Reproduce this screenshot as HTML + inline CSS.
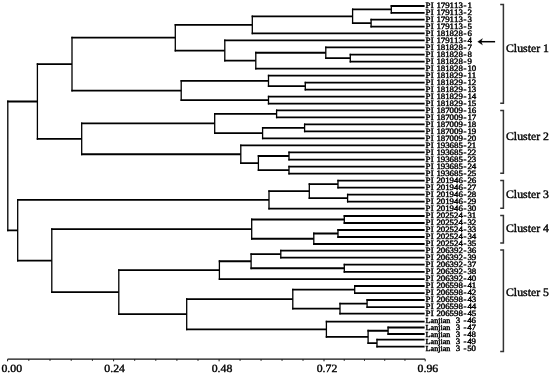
<!DOCTYPE html>
<html><head><meta charset="utf-8"><style>
html,body{margin:0;padding:0;background:#fff;}
body{width:550px;height:375px;overflow:hidden;}
svg{display:block;will-change:transform;}
text{font-family:"Liberation Serif",serif;text-rendering:geometricPrecision;}
</style></head><body>
<svg width="550" height="375" viewBox="0 0 550 375">
<rect width="550" height="375" fill="#fff"/>
<path d="M390.65 6.00H424.60M390.65 12.90H424.60M370.45 19.60H424.60M370.45 26.70H424.60M351.95 9.45H391.30M351.95 23.15H371.10M251.65 16.30H352.60M251.65 33.30H424.60M349.65 54.60H424.60M349.65 61.70H424.60M325.15 47.30H424.60M325.15 58.15H350.30M255.15 52.73H325.80M255.15 68.60H424.60M224.15 40.40H424.60M224.15 60.66H255.80M174.65 24.80H252.30M174.65 50.53H224.80M304.65 82.60H424.60M304.65 89.70H424.60M267.85 75.70H424.60M267.85 86.15H305.30M267.85 96.60H424.60M267.85 103.70H424.60M180.55 80.93H268.50M180.55 100.15H268.50M71.35 37.67H175.30M71.35 90.54H181.20M275.95 110.40H424.60M275.95 117.30H424.60M303.95 124.40H424.60M303.95 131.30H424.60M261.95 127.85H304.60M261.95 138.30H424.60M214.05 113.85H276.60M214.05 133.08H262.60M288.35 152.30H424.60M288.35 159.70H424.60M288.35 166.60H424.60M288.35 173.70H424.60M257.75 156.00H289.00M257.75 170.15H289.00M240.15 145.40H424.60M240.15 163.07H258.40M81.05 123.46H214.70M81.05 154.24H240.80M36.75 64.10H72.00M36.75 138.85H81.70M337.35 180.60H424.60M337.35 187.60H424.60M346.95 194.60H424.60M346.95 201.60H424.60M308.65 184.10H338.00M308.65 198.10H347.60M268.35 191.10H309.30M268.35 208.70H424.60M343.65 216.00H424.60M343.65 223.00H424.60M337.35 230.00H424.60M337.35 237.00H424.60M313.15 233.50H338.00M313.15 244.00H424.60M251.05 219.50H344.30M251.05 238.75H313.80M280.15 250.70H424.60M280.15 257.70H424.60M343.65 264.70H424.60M343.65 271.80H424.60M250.45 254.20H280.80M250.45 268.25H344.30M218.75 261.23H251.10M218.75 279.10H424.60M354.05 286.00H424.60M354.05 293.10H424.60M366.45 300.00H424.60M366.45 307.10H424.60M339.35 303.55H367.10M339.35 313.70H424.60M292.15 289.55H354.70M292.15 308.62H340.00M387.45 327.50H424.60M387.45 334.00H424.60M376.35 339.70H424.60M376.35 346.60H424.60M367.45 330.75H388.10M367.45 343.15H377.00M325.75 321.70H424.60M325.75 336.95H368.10M186.05 299.09H292.80M186.05 329.32H326.40M118.15 270.16H219.40M118.15 314.21H186.70M51.15 229.12H251.70M51.15 292.18H118.80M17.05 199.90H269.00M17.05 260.65H51.80M7.15 101.48H37.40M7.15 230.28H17.70" fill="none" stroke="#000" stroke-width="1.8"/>
<path d="M391.30 5.10V13.80M371.10 18.70V27.60M352.60 8.55V24.05M252.30 15.40V34.20M350.30 53.70V62.60M325.80 46.40V59.05M255.80 51.83V69.50M224.80 39.50V61.56M175.30 23.90V51.43M305.30 81.70V90.60M268.50 74.80V87.05M268.50 95.70V104.60M181.20 80.03V101.05M72.00 36.77V91.44M276.60 109.50V118.20M304.60 123.50V132.20M262.60 126.95V139.20M214.70 112.95V133.98M289.00 151.40V160.60M289.00 165.70V174.60M258.40 155.10V171.05M240.80 144.50V163.97M81.70 122.56V155.14M37.40 63.20V139.75M338.00 179.70V188.50M347.60 193.70V202.50M309.30 183.20V199.00M269.00 190.20V209.60M344.30 215.10V223.90M338.00 229.10V237.90M313.80 232.60V244.90M251.70 218.60V239.65M280.80 249.80V258.60M344.30 263.80V272.70M251.10 253.30V269.15M219.40 260.33V280.00M354.70 285.10V294.00M367.10 299.10V308.00M340.00 302.65V314.60M292.80 288.65V309.52M388.10 326.60V334.90M377.00 338.80V347.50M368.10 329.85V344.05M326.40 320.80V337.85M186.70 298.19V330.22M118.80 269.26V315.11M51.80 228.22V293.08M17.70 199.00V261.55M7.80 100.58V231.18" fill="none" stroke="#000" stroke-width="1.3"/>
<path d="M7.6 359.2H425.2" stroke="#111" stroke-width="1.3" fill="none"/>
<path d="M7.60 359.20v2.1M28.80 359.20v1.6M50.00 359.20v1.6M71.20 359.20v1.6M92.40 359.20v1.6M113.60 359.20v2.1M134.70 359.20v1.6M155.80 359.20v1.6M176.90 359.20v1.6M198.00 359.20v1.6M219.10 359.20v2.1M240.08 359.20v1.6M261.06 359.20v1.6M282.04 359.20v1.6M303.02 359.20v1.6M324.00 359.20v2.1M344.24 359.20v1.6M364.48 359.20v1.6M384.72 359.20v1.6M404.96 359.20v1.6M425.20 359.20v2.1" stroke="#111" stroke-width="1" fill="none"/>
<g fill="#000" stroke="#000" stroke-width="0.45"><text transform="translate(0,7.90) scale(1,0.9298)"><tspan font-size="8.9" x="425.60 430.72 433.78 436.43 440.82 445.21 449.60 453.99 458.38 463.56 467.40">PI 179113-1</tspan></text><text transform="translate(0,14.91) scale(1,0.9298)"><tspan font-size="8.9" x="425.60 430.72 433.78 436.43 440.82 445.21 449.60 453.99 458.38 463.56 467.40">PI 179113-2</tspan></text><text transform="translate(0,21.92) scale(1,0.9298)"><tspan font-size="8.9" x="425.60 430.72 433.78 436.43 440.82 445.21 449.60 453.99 458.38 463.56 467.40">PI 179113-3</tspan></text><text transform="translate(0,28.93) scale(1,0.9298)"><tspan font-size="8.9" x="425.60 430.72 433.78 436.43 440.82 445.21 449.60 453.99 458.38 463.56 467.40">PI 179113-5</tspan></text><text transform="translate(0,35.95) scale(1,0.9298)"><tspan font-size="8.9" x="425.60 430.72 433.78 436.43 440.82 445.21 449.60 453.99 458.38 463.56 467.40">PI 181828-6</tspan></text><text transform="translate(0,42.96) scale(1,0.9298)"><tspan font-size="8.9" x="425.60 430.72 433.78 436.43 440.82 445.21 449.60 453.99 458.38 463.56 467.40">PI 179113-4</tspan></text><text transform="translate(0,49.97) scale(1,0.9298)"><tspan font-size="8.9" x="425.60 430.72 433.78 436.43 440.82 445.21 449.60 453.99 458.38 463.56 467.40">PI 181828-7</tspan></text><text transform="translate(0,56.98) scale(1,0.9298)"><tspan font-size="8.9" x="425.60 430.72 433.78 436.43 440.82 445.21 449.60 453.99 458.38 463.56 467.40">PI 181828-8</tspan></text><text transform="translate(0,63.99) scale(1,0.9298)"><tspan font-size="8.9" x="425.60 430.72 433.78 436.43 440.82 445.21 449.60 453.99 458.38 463.56 467.40">PI 181828-9</tspan></text><text transform="translate(0,71.00) scale(1,0.9298)"><tspan font-size="8.9" x="425.60 430.72 433.78 436.43 440.82 445.21 449.60 453.99 458.38 463.56 467.40 471.70">PI 181828-10</tspan></text><text transform="translate(0,78.02) scale(1,0.9298)"><tspan font-size="8.9" x="425.60 430.72 433.78 436.43 440.82 445.21 449.60 453.99 458.38 463.56 467.40 471.70">PI 181829-11</tspan></text><text transform="translate(0,85.03) scale(1,0.9298)"><tspan font-size="8.9" x="425.60 430.72 433.78 436.43 440.82 445.21 449.60 453.99 458.38 463.56 467.40 471.70">PI 181829-12</tspan></text><text transform="translate(0,92.04) scale(1,0.9298)"><tspan font-size="8.9" x="425.60 430.72 433.78 436.43 440.82 445.21 449.60 453.99 458.38 463.56 467.40 471.70">PI 181829-13</tspan></text><text transform="translate(0,99.05) scale(1,0.9298)"><tspan font-size="8.9" x="425.60 430.72 433.78 436.43 440.82 445.21 449.60 453.99 458.38 463.56 467.40 471.70">PI 181829-14</tspan></text><text transform="translate(0,106.06) scale(1,0.9298)"><tspan font-size="8.9" x="425.60 430.72 433.78 436.43 440.82 445.21 449.60 453.99 458.38 463.56 467.40 471.70">PI 181829-15</tspan></text><text transform="translate(0,113.07) scale(1,0.9298)"><tspan font-size="8.9" x="425.60 430.72 433.78 436.43 440.82 445.21 449.60 453.99 458.38 463.56 467.40 471.70">PI 187009-16</tspan></text><text transform="translate(0,120.08) scale(1,0.9298)"><tspan font-size="8.9" x="425.60 430.72 433.78 436.43 440.82 445.21 449.60 453.99 458.38 463.56 467.40 471.70">PI 187009-17</tspan></text><text transform="translate(0,127.10) scale(1,0.9298)"><tspan font-size="8.9" x="425.60 430.72 433.78 436.43 440.82 445.21 449.60 453.99 458.38 463.56 467.40 471.70">PI 187009-18</tspan></text><text transform="translate(0,134.11) scale(1,0.9298)"><tspan font-size="8.9" x="425.60 430.72 433.78 436.43 440.82 445.21 449.60 453.99 458.38 463.56 467.40 471.70">PI 187009-19</tspan></text><text transform="translate(0,141.12) scale(1,0.9298)"><tspan font-size="8.9" x="425.60 430.72 433.78 436.43 440.82 445.21 449.60 453.99 458.38 463.56 467.40 471.70">PI 187009-20</tspan></text><text transform="translate(0,148.13) scale(1,0.9298)"><tspan font-size="8.9" x="425.60 430.72 433.78 436.43 440.82 445.21 449.60 453.99 458.38 463.56 467.40 471.70">PI 193685-21</tspan></text><text transform="translate(0,155.14) scale(1,0.9298)"><tspan font-size="8.9" x="425.60 430.72 433.78 436.43 440.82 445.21 449.60 453.99 458.38 463.56 467.40 471.70">PI 193685-22</tspan></text><text transform="translate(0,162.15) scale(1,0.9298)"><tspan font-size="8.9" x="425.60 430.72 433.78 436.43 440.82 445.21 449.60 453.99 458.38 463.56 467.40 471.70">PI 193685-23</tspan></text><text transform="translate(0,169.16) scale(1,0.9298)"><tspan font-size="8.9" x="425.60 430.72 433.78 436.43 440.82 445.21 449.60 453.99 458.38 463.56 467.40 471.70">PI 193685-24</tspan></text><text transform="translate(0,176.18) scale(1,0.9298)"><tspan font-size="8.9" x="425.60 430.72 433.78 436.43 440.82 445.21 449.60 453.99 458.38 463.56 467.40 471.70">PI 193685-25</tspan></text><text transform="translate(0,183.19) scale(1,0.9298)"><tspan font-size="8.9" x="425.60 430.72 433.78 436.43 440.82 445.21 449.60 453.99 458.38 463.56 467.40 471.70">PI 201946-26</tspan></text><text transform="translate(0,190.20) scale(1,0.9298)"><tspan font-size="8.9" x="425.60 430.72 433.78 436.43 440.82 445.21 449.60 453.99 458.38 463.56 467.40 471.70">PI 201946-27</tspan></text><text transform="translate(0,197.21) scale(1,0.9298)"><tspan font-size="8.9" x="425.60 430.72 433.78 436.43 440.82 445.21 449.60 453.99 458.38 463.56 467.40 471.70">PI 201946-28</tspan></text><text transform="translate(0,204.22) scale(1,0.9298)"><tspan font-size="8.9" x="425.60 430.72 433.78 436.43 440.82 445.21 449.60 453.99 458.38 463.56 467.40 471.70">PI 201946-29</tspan></text><text transform="translate(0,211.23) scale(1,0.9298)"><tspan font-size="8.9" x="425.60 430.72 433.78 436.43 440.82 445.21 449.60 453.99 458.38 463.56 467.40 471.70">PI 201946-30</tspan></text><text transform="translate(0,218.25) scale(1,0.9298)"><tspan font-size="8.9" x="425.60 430.72 433.78 436.43 440.82 445.21 449.60 453.99 458.38 463.56 467.40 471.70">PI 202524-31</tspan></text><text transform="translate(0,225.26) scale(1,0.9298)"><tspan font-size="8.9" x="425.60 430.72 433.78 436.43 440.82 445.21 449.60 453.99 458.38 463.56 467.40 471.70">PI 202524-32</tspan></text><text transform="translate(0,232.27) scale(1,0.9298)"><tspan font-size="8.9" x="425.60 430.72 433.78 436.43 440.82 445.21 449.60 453.99 458.38 463.56 467.40 471.70">PI 202524-33</tspan></text><text transform="translate(0,239.28) scale(1,0.9298)"><tspan font-size="8.9" x="425.60 430.72 433.78 436.43 440.82 445.21 449.60 453.99 458.38 463.56 467.40 471.70">PI 202524-34</tspan></text><text transform="translate(0,246.29) scale(1,0.9298)"><tspan font-size="8.9" x="425.60 430.72 433.78 436.43 440.82 445.21 449.60 453.99 458.38 463.56 467.40 471.70">PI 202524-35</tspan></text><text transform="translate(0,253.30) scale(1,0.9298)"><tspan font-size="8.9" x="425.60 430.72 433.78 436.43 440.82 445.21 449.60 453.99 458.38 463.56 467.40 471.70">PI 206392-36</tspan></text><text transform="translate(0,260.31) scale(1,0.9298)"><tspan font-size="8.9" x="425.60 430.72 433.78 436.43 440.82 445.21 449.60 453.99 458.38 463.56 467.40 471.70">PI 206392-39</tspan></text><text transform="translate(0,267.33) scale(1,0.9298)"><tspan font-size="8.9" x="425.60 430.72 433.78 436.43 440.82 445.21 449.60 453.99 458.38 463.56 467.40 471.70">PI 206392-37</tspan></text><text transform="translate(0,274.34) scale(1,0.9298)"><tspan font-size="8.9" x="425.60 430.72 433.78 436.43 440.82 445.21 449.60 453.99 458.38 463.56 467.40 471.70">PI 206392-38</tspan></text><text transform="translate(0,281.35) scale(1,0.9298)"><tspan font-size="8.9" x="425.60 430.72 433.78 436.43 440.82 445.21 449.60 453.99 458.38 463.56 467.40 471.70">PI 206392-40</tspan></text><text transform="translate(0,288.36) scale(1,0.9298)"><tspan font-size="8.9" x="425.60 430.72 433.78 436.43 440.82 445.21 449.60 453.99 458.38 463.56 467.40 471.70">PI 206598-41</tspan></text><text transform="translate(0,295.37) scale(1,0.9298)"><tspan font-size="8.9" x="425.60 430.72 433.78 436.43 440.82 445.21 449.60 453.99 458.38 463.56 467.40 471.70">PI 206598-42</tspan></text><text transform="translate(0,302.38) scale(1,0.9298)"><tspan font-size="8.9" x="425.60 430.72 433.78 436.43 440.82 445.21 449.60 453.99 458.38 463.56 467.40 471.70">PI 206598-43</tspan></text><text transform="translate(0,309.39) scale(1,0.9298)"><tspan font-size="8.9" x="425.60 430.72 433.78 436.43 440.82 445.21 449.60 453.99 458.38 463.56 467.40 471.70">PI 206598-44</tspan></text><text transform="translate(0,316.41) scale(1,0.9298)"><tspan font-size="8.9" x="425.60 430.72 433.78 436.43 440.82 445.21 449.60 453.99 458.38 463.56 467.40 471.70">PI 206598-45</tspan></text><text transform="translate(0,323.42) scale(1,0.9298)"><tspan font-size="8.1" x="425.60 430.55 434.14 438.19 440.44 442.69 446.29">Lanjian</tspan><tspan font-size="8.9" x="455.80 460.25 463.56 467.30 471.60">3 -46</tspan></text><text transform="translate(0,330.43) scale(1,0.9298)"><tspan font-size="8.1" x="425.60 430.55 434.14 438.19 440.44 442.69 446.29">Lanjian</tspan><tspan font-size="8.9" x="455.80 460.25 463.56 467.30 471.60">3 -47</tspan></text><text transform="translate(0,337.44) scale(1,0.9298)"><tspan font-size="8.1" x="425.60 430.55 434.14 438.19 440.44 442.69 446.29">Lanjian</tspan><tspan font-size="8.9" x="455.80 460.25 463.56 467.30 471.60">3 -48</tspan></text><text transform="translate(0,344.45) scale(1,0.9298)"><tspan font-size="8.1" x="425.60 430.55 434.14 438.19 440.44 442.69 446.29">Lanjian</tspan><tspan font-size="8.9" x="455.80 460.25 463.56 467.30 471.60">3 -49</tspan></text><text transform="translate(0,351.46) scale(1,0.9298)"><tspan font-size="8.1" x="425.60 430.55 434.14 438.19 440.44 442.69 446.29">Lanjian</tspan><tspan font-size="8.9" x="455.80 460.25 463.56 467.30 471.60">3 -50</tspan></text></g>
<path d="M500.2 4.60H503.4V103.20H500.2M500.2 110.40H503.4V173.20H500.2M500.2 180.40H503.4V208.20H500.2M500.2 215.60H503.4V243.00H500.2M500.2 250.00H503.4V351.40H500.2" fill="none" stroke="#333" stroke-width="1.5"/>
<g fill="#000" stroke="#000" stroke-width="0.4"><text transform="translate(506.00,51.80) scale(1,0.9746)" font-size="11.8">Cluster 1</text><text transform="translate(506.00,139.70) scale(1,0.9746)" font-size="11.8">Cluster 2</text><text transform="translate(506.00,197.50) scale(1,0.9746)" font-size="11.8">Cluster 3</text><text transform="translate(506.00,231.50) scale(1,0.9746)" font-size="11.8">Cluster 4</text><text transform="translate(506.00,295.50) scale(1,0.9746)" font-size="11.8">Cluster 5</text></g>
<g fill="#000" stroke="#000" stroke-width="0.4"><text transform="translate(1.45,371.80) scale(1,0.9407)" font-size="11.8">0.00</text><text transform="translate(104.35,372.00) scale(1,0.9407)" font-size="11.8">0.24</text><text transform="translate(211.65,372.00) scale(1,0.9407)" font-size="11.8">0.48</text><text transform="translate(316.65,372.00) scale(1,0.9407)" font-size="11.8">0.72</text><text transform="translate(417.55,372.30) scale(1,0.9407)" font-size="11.8">0.96</text></g>
<path d="M477.6 41.7L482.6 38.4L481.2 41.7L482.6 45.1Z" fill="#000" stroke="#000" stroke-width="0.2" stroke-linejoin="round"/>
<path d="M480.5 41.7H495.1" stroke="#000" stroke-width="1.5"/>
</svg>
</body></html>
